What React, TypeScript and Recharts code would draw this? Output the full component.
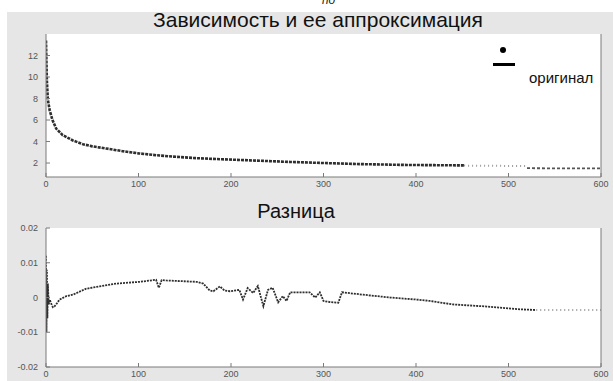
import { LineChart, Line, XAxis, YAxis } from 'recharts';

// верхний график: зависимость (точки оригинала)
const curveX = [0, 0.5, 1, 2, 4, 7, 11, 18, 29, 40, 50, 65, 83, 100, 120, 137, 163, 190, 220, 264, 300, 340, 390, 420, 452];
const curveY = [13.4, 11.3, 9.6, 7.9, 6.9, 6.0, 5.2, 4.6, 4.1, 3.75, 3.55, 3.35, 3.1, 2.9, 2.72, 2.6, 2.45, 2.35, 2.25, 2.1, 2.0, 1.9, 1.82, 1.8, 1.78];
const curveFaintX = [452, 485, 518];
const curveFaintY = [1.76, 1.74, 1.72];
const curveTailX = [520, 560, 600];
const curveTailY = [1.52, 1.5, 1.5];

// нижний график: разница
const diffX = [0, 0.5, 1, 1.5, 2, 3, 4, 6, 7.5, 9, 11, 14.6, 22, 29, 43, 58, 76, 101, 119, 122, 125, 130, 163, 170, 177, 181, 188, 193, 199, 209, 213, 218, 224, 229, 235, 240, 245, 251, 256, 260, 264, 285, 291, 296, 300, 307, 316, 320, 343, 372, 401, 415, 440, 477, 513, 529];
const diffY = [0.012, -0.01, 0.008, -0.006, 0.004, -0.002, -0.0006, -0.002, -0.0028, -0.0026, -0.002, -0.0006, 0.0004, 0.0008, 0.0025, 0.0032, 0.004, 0.0045, 0.0051, 0.0028, 0.005, 0.0049, 0.0045, 0.004, 0.002, 0.0018, 0.0032, 0.002, 0.0018, 0.0022, -0.0006, 0.0027, 0.0013, 0.0033, -0.0025, 0.0022, 0.0028, -0.0014, 0.0004, -0.001, 0.0015, 0.0015, 0.0, 0.0015, -0.001, -0.0013, -0.0015, 0.0015, 0.0008, 0.0, -0.0006, -0.001, -0.002, -0.0026, -0.0034, -0.0036];
const diffTailX = [530, 565, 600];
const diffTailY = [-0.0036, -0.0036, -0.0036];

const xTicks = [0, 100, 200, 300, 400, 500, 600];
const topTicks = [2, 4, 6, 8, 10, 12];
const diffTicks = [-0.02, -0.01, 0, 0.01, 0.02];

const pairs = (xs: number[], ys: number[]) => xs.map((x, i) => ({ x, y: ys[i] }));

const tickStyle = { fontSize: 9, fill: '#555', fontFamily: 'Liberation Sans' };
const axisColor = '#7a7a7a';

function Box({ yDomain, yTicks, children }: { yDomain: number[]; yTicks: number[]; children: any }) {
  return [
    <XAxis key="xb" xAxisId={0} type="number" dataKey="x" domain={[0, 600]} ticks={xTicks} height={18}
      tick={tickStyle} stroke={axisColor} tickSize={-4} tickMargin={8} allowDataOverflow />,
    <XAxis key="xt" xAxisId="t" orientation="top" type="number" dataKey="x" domain={[0, 600]} ticks={xTicks} height={0}
      tick={false} stroke={axisColor} tickSize={-4} />,
    <YAxis key="yl" yAxisId={0} type="number" domain={yDomain} ticks={yTicks} width={46}
      tick={tickStyle} stroke={axisColor} tickSize={-4} tickMargin={12} allowDataOverflow />,
    <YAxis key="yr" yAxisId="r" orientation="right" type="number" domain={yDomain} ticks={yTicks} width={12}
      tick={false} stroke={axisColor} tickSize={-4} />,
    children,
  ];
}

export default function App() {
  return (
    <div style={{ position: 'absolute', left: 0, top: 0, width: 613, height: 381, background: '#fff', overflow: 'hidden', fontFamily: 'Liberation Sans, Arial, sans-serif' }}>
      <div style={{ position: 'absolute', left: 322, top: -7, fontSize: 12, fontStyle: 'italic', color: '#222' }}>по</div>
      <div style={{ position: 'absolute', left: 7, top: 12, width: 606, height: 369, background: '#e6e6e6' }} />
      <div style={{ position: 'absolute', left: 46, top: 34, width: 555, height: 143, background: '#fff' }} />
      <div style={{ position: 'absolute', left: 46, top: 228, width: 555, height: 139, background: '#fff' }} />

      <div style={{ position: 'absolute', left: 0, width: 636, top: 8, textAlign: 'center', fontSize: 21, color: '#111' }}>
        Зависимость и ее аппроксимация
      </div>
      <div style={{ position: 'absolute', left: 0, width: 592, top: 200, textAlign: 'center', fontSize: 20, color: '#111' }}>
        Разница
      </div>

      <div style={{ position: 'absolute', left: 0, top: 0 }}>
        <LineChart width={613} height={195} margin={{ top: 34, right: 0, bottom: 0, left: 0 }}>
          {Box({
            yDomain: [0.7, 14],
            yTicks: topTicks,
            children: [
              <Line key="a" data={pairs(curveX, curveY)} dataKey="y" type="linear" stroke="#2e2e2e" strokeWidth={2.6}
                strokeDasharray="3 1" dot={false} isAnimationActive={false} />,
              <Line key="b" data={pairs(curveFaintX, curveFaintY)} dataKey="y" type="linear" stroke="#9a9a9a" strokeWidth={2}
                strokeDasharray="1 3" dot={false} isAnimationActive={false} />,
              <Line key="c" data={pairs(curveTailX, curveTailY)} dataKey="y" type="linear" stroke="#555" strokeWidth={1.8}
                strokeDasharray="3 2" dot={false} isAnimationActive={false} />,
            ],
          })}
        </LineChart>
      </div>

      <div style={{ position: 'absolute', left: 0, top: 0 }}>
        <LineChart width={613} height={385} margin={{ top: 228, right: 0, bottom: 0, left: 0 }}>
          {Box({
            yDomain: [-0.02, 0.02],
            yTicks: diffTicks,
            children: [
              <Line key="a" data={pairs(diffX, diffY)} dataKey="y" type="linear" stroke="#2e2e2e" strokeWidth={1.8}
                strokeDasharray="2 1" dot={false} isAnimationActive={false} />,
              <Line key="b" data={pairs(diffTailX, diffTailY)} dataKey="y" type="linear" stroke="#777" strokeWidth={1.6}
                strokeDasharray="1 3" dot={false} isAnimationActive={false} />,
            ],
          })}
        </LineChart>
      </div>

      <div style={{ position: 'absolute', left: 500, top: 47, width: 6, height: 6, borderRadius: 3, background: '#000' }} />
      <div style={{ position: 'absolute', left: 493, top: 63, width: 22, height: 3, background: '#000' }} />
      <div style={{ position: 'absolute', left: 529, top: 69, fontSize: 15, color: '#111' }}>оригинал</div>
    </div>
  );
}
